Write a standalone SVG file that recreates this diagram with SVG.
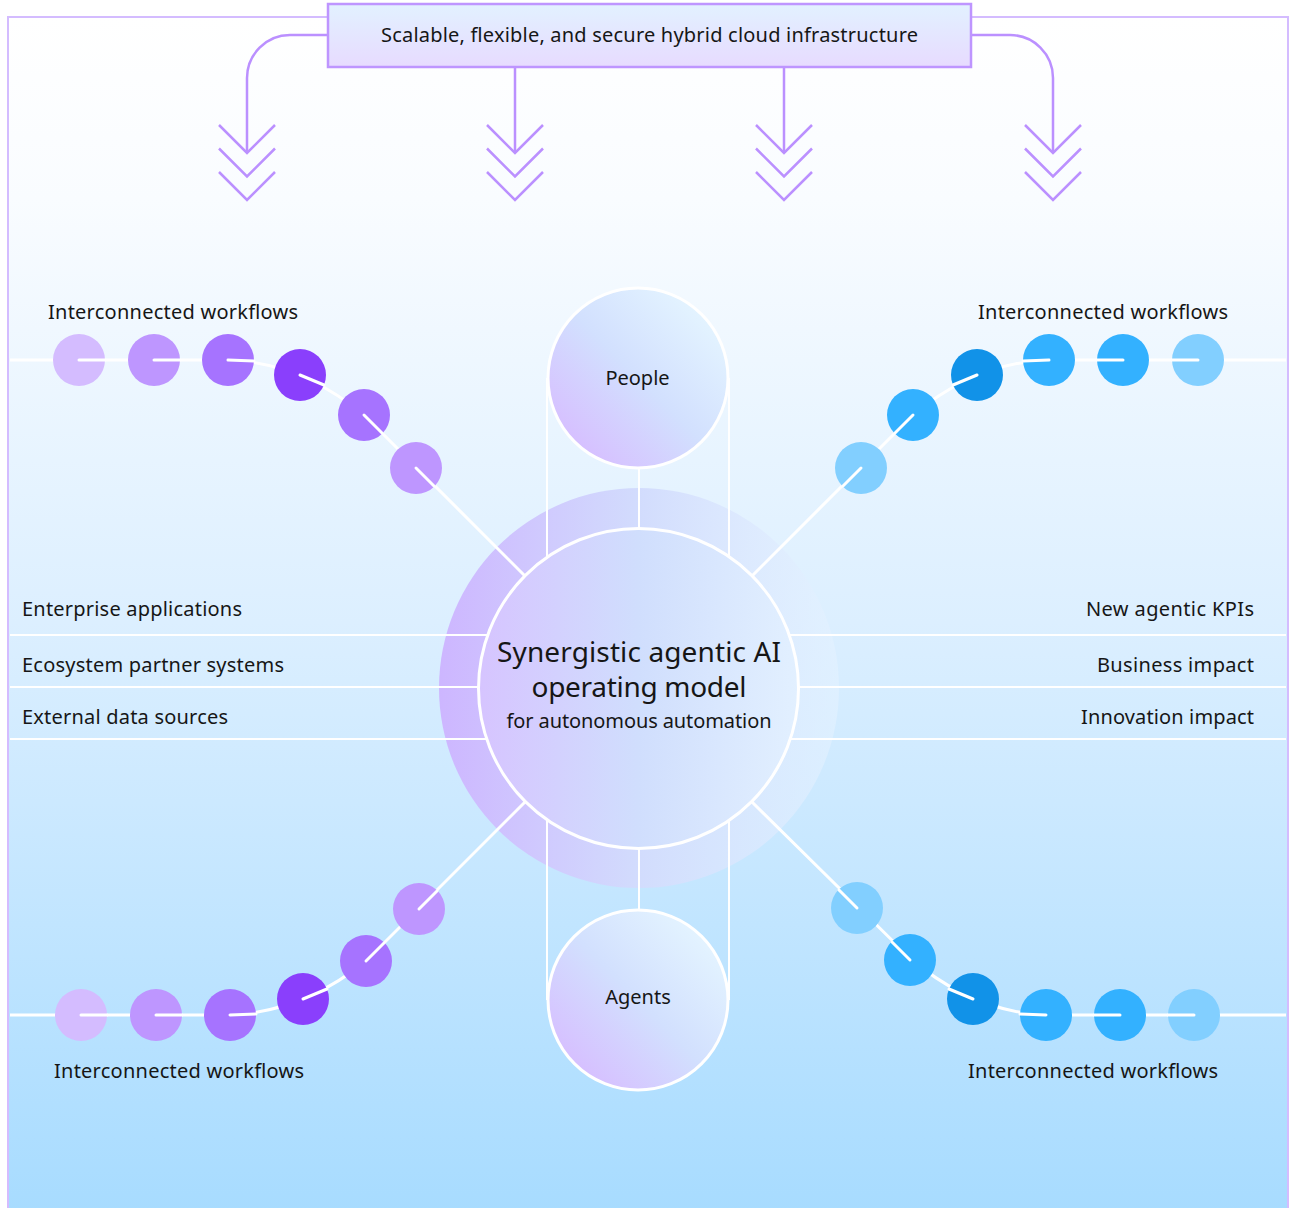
<svg xmlns="http://www.w3.org/2000/svg" width="1293" height="1208" viewBox="0 0 1293 1208">
<defs>
<linearGradient id="bg" x1="0" y1="0" x2="0" y2="1">
<stop offset="0" stop-color="#ffffff"/>
<stop offset="0.15" stop-color="#f9fcff"/>
<stop offset="0.5" stop-color="#dcefff"/>
<stop offset="1" stop-color="#a6dbff"/>
</linearGradient>
<linearGradient id="boxg" x1="0" y1="0" x2="0" y2="1">
<stop offset="0" stop-color="#e2f1ff"/>
<stop offset="1" stop-color="#e7dbff"/>
</linearGradient>
<linearGradient id="disk" x1="0" y1="0" x2="1" y2="0">
<stop offset="0" stop-color="#cdb6ff"/>
<stop offset="0.5" stop-color="#d2dcfd"/>
<stop offset="1" stop-color="#e4f2ff" stop-opacity="0.6"/>
</linearGradient>
<linearGradient id="inner" x1="0" y1="0" x2="1" y2="0">
<stop offset="0" stop-color="#d6c4ff"/>
<stop offset="0.5" stop-color="#d0defd"/>
<stop offset="1" stop-color="#e2f0ff"/>
</linearGradient>
<linearGradient id="small" x1="0.15" y1="0.85" x2="0.85" y2="0.15">
<stop offset="0" stop-color="#d6c0ff"/>
<stop offset="0.5" stop-color="#d2e0fe"/>
<stop offset="1" stop-color="#e3f3ff"/>
</linearGradient>
<path id="chev" d="M-28,0 L0,28 L28,0 M-28,23.5 L0,51.5 L28,23.5 M-28,47 L0,75 L28,47"/>
</defs>
<style>
.lbl{font-family:"Noto Sans","Liberation Sans",sans-serif;font-size:20px;fill:#161616}
.big{font-family:"Noto Sans","Liberation Sans",sans-serif;font-size:28px;fill:#161616}
.arr{fill:none;stroke:#bb90ff;stroke-width:2.5}
.wl{fill:none;stroke:#ffffff;stroke-width:2}
.wf{fill:none;stroke:#ffffff;stroke-width:3}
.tick{stroke:#ffffff;stroke-width:3;stroke-linecap:round}
.p1{fill:#d4bcff}.p2{fill:#be96ff}.p3{fill:#a673ff}.p4{fill:#8a3ffc}
.b1{fill:#82cfff}.b2{fill:#33b1ff}.b4{fill:#1192e8}
</style>
<rect x="0" y="0" width="1293" height="1208" fill="#ffffff"/>
<rect x="8" y="17" width="1280" height="1210" fill="url(#bg)" stroke="#d4bcff" stroke-width="2"/>

<circle id="outer-disk" cx="639" cy="688" r="200" fill="url(#disk)"/>

<g id="connectors">
<g class="arr">
<path d="M328,35 H290 A43,43 0 0 0 247,78 V153"/>
<path d="M515,67 V153"/>
<path d="M784,67 V153"/>
<path d="M971,35 H1010 A43,43 0 0 1 1053,78 V153"/>
<use href="#chev" x="247" y="125"/>
<use href="#chev" x="515" y="125"/>
<use href="#chev" x="784" y="125"/>
<use href="#chev" x="1053" y="125"/>
</g>
<g class="wl">
<path d="M10,635 H488 M10,687 H478 M10,739 H488"/>
<path d="M789,635 H1286 M799,687 H1286 M789,739 H1286"/>
<path d="M547,378 V557 M729,378 V557 M547,820 V1000 M729,820 V1000"/>
<path d="M639,468 V528 M639,849 V910"/>
</g>
<g class="wf">
<path d="M10,360 H228 Q300,362 364,415 L525,576"/>
<path d="M1286,360 H1049 Q977,362 913,415 L752,576"/>
<path d="M10,1015 H230 Q303,1012 366,961 L525,802"/>
<path d="M752,802 L910,958 Q973,1012 1046,1015 H1286"/>
</g>
</g>

<g id="infrastructure">
<rect x="328" y="4" width="643" height="63" fill="url(#boxg)" stroke="#be95ff" stroke-width="2.5"/>
<text class="lbl" x="649.5" y="42" text-anchor="middle" font-size="19" textLength="537" lengthAdjust="spacing">Scalable, flexible, and secure hybrid cloud infrastructure</text>
</g>

<g id="operating-model">
<circle cx="638.5" cy="688.5" r="160" fill="url(#inner)" stroke="#ffffff" stroke-width="3"/>
<text class="big" x="639" y="662" text-anchor="middle" textLength="284" lengthAdjust="spacing">Synergistic agentic AI</text>
<text class="big" x="639" y="697" text-anchor="middle" textLength="215" lengthAdjust="spacing">operating model</text>
<text class="lbl" x="639" y="728" text-anchor="middle" textLength="265" lengthAdjust="spacing">for autonomous automation</text>
</g>

<g id="people">
<circle cx="638" cy="378" r="90" fill="url(#small)" stroke="#ffffff" stroke-width="3"/>
<text class="lbl" x="637.5" y="385" text-anchor="middle">People</text>
</g>
<g id="agents">
<circle cx="638" cy="1000" r="90" fill="url(#small)" stroke="#ffffff" stroke-width="3"/>
<text class="lbl" x="638" y="1004" text-anchor="middle">Agents</text>
</g>

<g id="workflows-top-left">
<circle class="p1" cx="79" cy="360" r="26"/><line class="tick" x1="79" y1="360" x2="105" y2="360"/>
<circle class="p2" cx="154" cy="360" r="26"/><line class="tick" x1="154" y1="360" x2="180" y2="360"/>
<circle class="p3" cx="228" cy="360" r="26"/><line class="tick" x1="228" y1="360" x2="254" y2="361"/>
<circle class="p4" cx="300" cy="375" r="26"/><line class="tick" x1="300" y1="375" x2="324" y2="385"/>
<circle class="p3" cx="364" cy="415" r="26"/><line class="tick" x1="364" y1="415" x2="382" y2="433"/>
<circle class="p2" cx="416" cy="468" r="26"/><line class="tick" x1="416" y1="468" x2="434" y2="486"/>
<text class="lbl" x="48" y="319" textLength="250" lengthAdjust="spacing">Interconnected workflows</text>
</g>

<g id="workflows-top-right">
<circle class="b1" cx="1198" cy="360" r="26"/><line class="tick" x1="1198" y1="360" x2="1172" y2="360"/>
<circle class="b2" cx="1123" cy="360" r="26"/><line class="tick" x1="1123" y1="360" x2="1097" y2="360"/>
<circle class="b2" cx="1049" cy="360" r="26"/><line class="tick" x1="1049" y1="360" x2="1023" y2="361"/>
<circle class="b4" cx="977" cy="375" r="26"/><line class="tick" x1="977" y1="375" x2="953" y2="385"/>
<circle class="b2" cx="913" cy="415" r="26"/><line class="tick" x1="913" y1="415" x2="895" y2="433"/>
<circle class="b1" cx="861" cy="468" r="26"/><line class="tick" x1="861" y1="468" x2="843" y2="486"/>
<text class="lbl" x="978" y="319" textLength="250" lengthAdjust="spacing">Interconnected workflows</text>
</g>

<g id="workflows-bottom-left">
<circle class="p1" cx="81" cy="1015" r="26"/><line class="tick" x1="81" y1="1015" x2="107" y2="1015"/>
<circle class="p2" cx="156" cy="1015" r="26"/><line class="tick" x1="156" y1="1015" x2="182" y2="1015"/>
<circle class="p3" cx="230" cy="1015" r="26"/><line class="tick" x1="230" y1="1015" x2="256" y2="1014"/>
<circle class="p4" cx="303" cy="999" r="26"/><line class="tick" x1="303" y1="999" x2="327" y2="989"/>
<circle class="p3" cx="366" cy="961" r="26"/><line class="tick" x1="366" y1="961" x2="384" y2="943"/>
<circle class="p2" cx="419" cy="909" r="26"/><line class="tick" x1="419" y1="909" x2="437" y2="891"/>
<text class="lbl" x="54" y="1078" textLength="250" lengthAdjust="spacing">Interconnected workflows</text>
</g>

<g id="workflows-bottom-right">
<circle class="b1" cx="1194" cy="1015" r="26"/><line class="tick" x1="1194" y1="1015" x2="1168" y2="1015"/>
<circle class="b2" cx="1120" cy="1015" r="26"/><line class="tick" x1="1120" y1="1015" x2="1094" y2="1015"/>
<circle class="b2" cx="1046" cy="1015" r="26"/><line class="tick" x1="1046" y1="1015" x2="1020" y2="1014"/>
<circle class="b4" cx="973" cy="999" r="26"/><line class="tick" x1="973" y1="999" x2="949" y2="989"/>
<circle class="b2" cx="910" cy="960" r="26"/><line class="tick" x1="910" y1="960" x2="892" y2="942"/>
<circle class="b1" cx="857" cy="908" r="26"/><line class="tick" x1="857" y1="908" x2="839" y2="890"/>
<text class="lbl" x="968" y="1078" textLength="250" lengthAdjust="spacing">Interconnected workflows</text>
</g>

<g id="inputs">
<text class="lbl" x="22" y="616" textLength="220" lengthAdjust="spacing">Enterprise applications</text>
<text class="lbl" x="22" y="672" textLength="262" lengthAdjust="spacing">Ecosystem partner systems</text>
<text class="lbl" x="22" y="724" textLength="206" lengthAdjust="spacing">External data sources</text>
</g>
<g id="outputs">
<text class="lbl" x="1254" y="616" text-anchor="end" textLength="168" lengthAdjust="spacing">New agentic KPIs</text>
<text class="lbl" x="1254" y="672" text-anchor="end" textLength="157" lengthAdjust="spacing">Business impact</text>
<text class="lbl" x="1254" y="724" text-anchor="end" textLength="173" lengthAdjust="spacing">Innovation impact</text>
</g>
</svg>
